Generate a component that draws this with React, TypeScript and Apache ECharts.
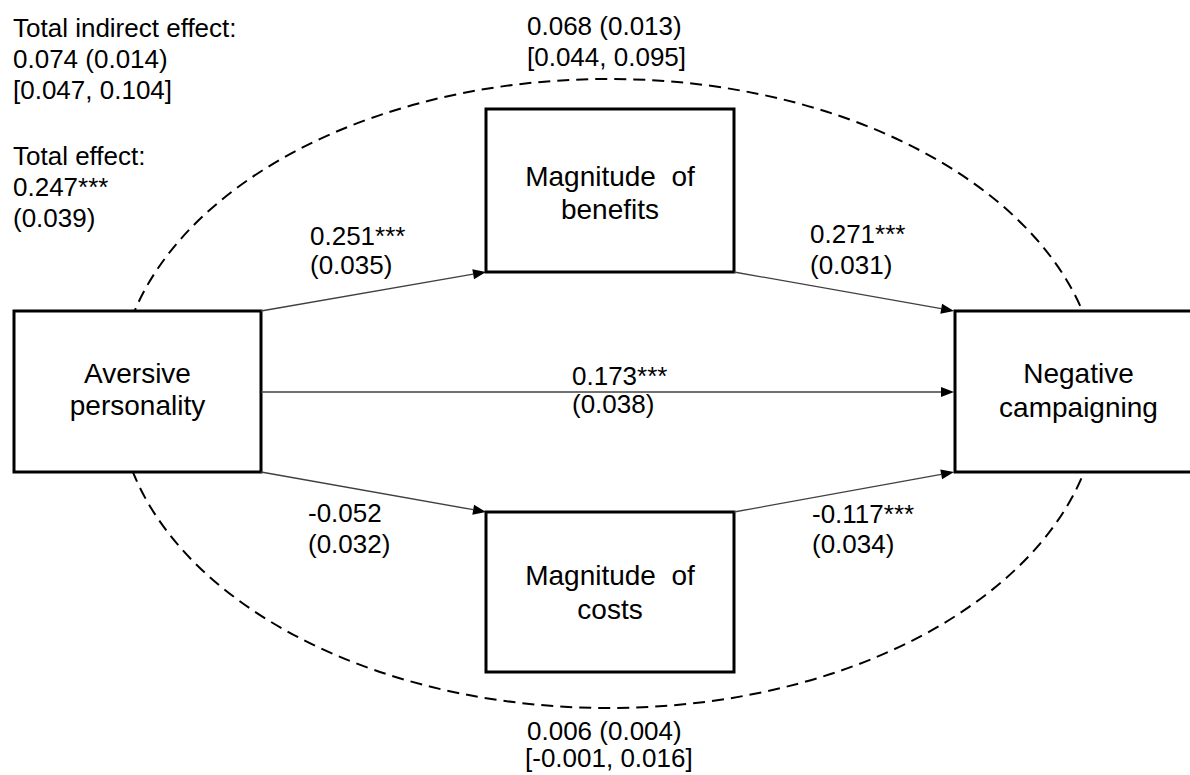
import React, { useEffect, useRef } from "react";
import * as echarts from "echarts";

// ---- Data ----
const nodeLabels = [
  ["Aversive", "personality"],
  ["Magnitude  of", "benefits"],
  ["Magnitude  of", "costs"],
  ["Negative", "campaigning"],
];
const pathCoefs = ["0.251***", "0.271***", "0.173***", "-0.052", "-0.117***"];
const pathSEs = ["(0.035)", "(0.031)", "(0.038)", "(0.032)", "(0.034)"];
const indirectBenefits = ["0.068 (0.013)", "[0.044, 0.095]"];
const indirectCosts = ["0.006 (0.004)", "[-0.001, 0.016]"];
const totalIndirect = ["Total indirect effect:", "0.074 (0.014)", "[0.047, 0.104]"];
const totalEffect = ["Total effect:", "0.247***", "(0.039)"];

// ---- Layout (positions / sizes) ----
const boxes = [
  { x: 14, y: 311, w: 247, h: 161, cx: 137.5, base: [383, 415] },
  { x: 486, y: 109, w: 248, h: 163, cx: 610, base: [186, 219] },
  { x: 486, y: 512, w: 248, h: 160, cx: 610, base: [585, 619] },
  { x: 955, y: 311, w: 247, h: 161, cx: 1078.5, base: [383, 417] },
];
const arrows = [
  [261, 311, 486, 272],
  [734, 272, 954, 311],
  [261, 392, 954, 392],
  [261, 472, 486, 512],
  [734, 512, 954, 472],
];
const pathLabelPos = [
  { x: 310, b1: 245, b2: 274 },
  { x: 810, b1: 243, b2: 274 },
  { x: 572, b1: 385, b2: 413 },
  { x: 308, b1: 522, b2: 553 },
  { x: 812, b1: 523, b2: 553 },
];

const FONT = "'Liberation Sans', Arial, sans-serif";

function txt(text: string, x: number, baseline: number, size: number, align = "left") {
  return {
    type: "text",
    x,
    y: baseline - size * 0.35,
    z: 20,
    style: {
      text,
      fontSize: size,
      fontFamily: FONT,
      fill: "#000",
      align,
      verticalAlign: "middle",
    },
  };
}

function arrowEls(a: number[]) {
  const [x1, y1, x2, y2] = a;
  const dx = x2 - x1;
  const dy = y2 - y1;
  const len = Math.sqrt(dx * dx + dy * dy);
  const ux = dx / len;
  const uy = dy / len;
  const L = 13;
  const W = 5;
  const bx = x2 - ux * L;
  const by = y2 - uy * L;
  return [
    {
      type: "line",
      z: 15,
      shape: { x1, y1, x2: bx, y2: by },
      style: { stroke: "#404040", lineWidth: 1.3 },
    },
    {
      type: "polygon",
      z: 16,
      shape: {
        points: [
          [x2, y2],
          [bx - uy * W, by + ux * W],
          [bx + uy * W, by - ux * W],
        ],
      },
      style: { fill: "#000" },
    },
  ];
}

export default function App() {
  const ref = useRef<HTMLDivElement>(null);
  useEffect(() => {
    document.body.style.margin = "0";
    const chart = echarts.init(ref.current!, undefined, { renderer: "svg" });
    const elements: any[] = [];
    elements.push({
      type: "ellipse",
      z: 5,
      shape: { cx: 608.5, cy: 393.5, rx: 491, ry: 314.5 },
      style: { fill: "none", stroke: "#000", lineWidth: 2, lineDash: [12, 7] },
    });
    boxes.forEach((b, i) => {
      elements.push({
        type: "rect",
        z: 10,
        shape: { x: b.x, y: b.y, width: b.w, height: b.h },
        style: { fill: "#fff", stroke: "#000", lineWidth: 3 },
      });
      elements.push(txt(nodeLabels[i][0], b.cx, b.base[0], 28, "center"));
      elements.push(txt(nodeLabels[i][1], b.cx, b.base[1], 28, "center"));
    });
    arrows.forEach((a) => elements.push(...arrowEls(a)));
    pathLabelPos.forEach((p, i) => {
      elements.push(txt(pathCoefs[i], p.x, p.b1, 26));
      elements.push(txt(pathSEs[i], p.x, p.b2, 26));
    });
    elements.push(txt(indirectBenefits[0], 527, 35, 26));
    elements.push(txt(indirectBenefits[1], 527, 66, 26));
    elements.push(txt(indirectCosts[0], 527, 740, 26));
    elements.push(txt(indirectCosts[1], 525, 767, 26));
    const tiBase = [37, 68, 99];
    totalIndirect.forEach((t, i) => elements.push(txt(t, 13, tiBase[i], 26)));
    const teBase = [165, 196, 227];
    totalEffect.forEach((t, i) => elements.push(txt(t, 13, teBase[i], 26)));

    chart.setOption({
      animation: false,
      backgroundColor: "#fff",
      graphic: { elements },
    });
    return () => chart.dispose();
  }, []);
  return <div ref={ref} style={{ width: 1190, height: 775 }} />;
}
